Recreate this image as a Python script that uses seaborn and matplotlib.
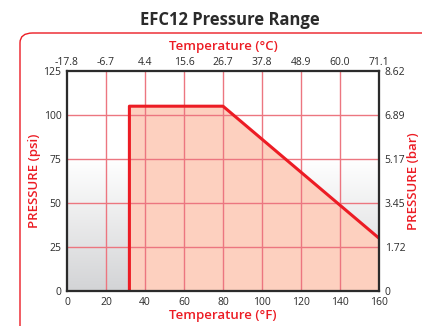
import matplotlib
matplotlib.use("Agg")
import matplotlib.pyplot as plt
from matplotlib.patches import FancyBboxPatch
import seaborn as sns
import numpy as np

# data
temp_f = [32, 32, 80, 160]
pressure_psi = [0, 105, 105, 30]
f_ticks = [0, 20, 40, 60, 80, 100, 120, 140, 160]
c_labels = ["-17.8", "-6.7", "4.4", "15.6", "26.7", "37.8", "48.9", "60.0", "71.1"]
psi_ticks = [0, 25, 50, 75, 100, 125]
bar_labels = ["0", "1.72", "3.45", "5.17", "6.89", "8.62"]

RED = "#ec1c24"
GRID = "#ec7680"
FILL = "#fdd0bf"
DARK = "#2b2b2b"

sns.set_style("white")
plt.rcParams['font.family'] = ['Open Sans', 'DejaVu Sans']

fig = plt.figure(figsize=(4.22, 3.26), dpi=100)
ax = fig.add_axes([67 / 422, 1 - 291 / 326, 312 / 422, 220 / 326])

# rounded red frame behind the chart
frame = FancyBboxPatch((20 / 422, -0.05), 1.05, 1 - 33 / 326 + 0.05,
                       boxstyle="round,pad=0,rounding_size=0.03",
                       transform=fig.transFigure, fill=False,
                       edgecolor=RED, lw=1.0, clip_on=False, zorder=0)
fig.patches.append(frame)

# background gradient white -> grey
grad = np.linspace(0, 1, 256).reshape(-1, 1)
grad = np.clip((grad - 0.4) / 0.6, 0, 1)
cmap = matplotlib.colors.LinearSegmentedColormap.from_list("bg", ["#ffffff", "#d3d4d6"])
ax.imshow(grad, extent=[0, 160, 0, 125], origin="upper", aspect="auto",
          cmap=cmap, zorder=0)

ax.fill_between(temp_f, pressure_psi, 0, color=FILL, zorder=1, lw=0)
for xv in f_ticks[1:-1]:
    ax.axvline(xv, color=GRID, lw=1.0, zorder=2)
for yv in psi_ticks[1:-1]:
    ax.axhline(yv, color=GRID, lw=1.0, zorder=2)
sns.lineplot(x=temp_f, y=pressure_psi, ax=ax, color=RED, lw=2.2, sort=False,
             estimator=None, zorder=3)
ax.set_xlim(0, 160)
ax.set_ylim(0, 125)

ax.set_xticks(f_ticks)
ax.set_yticks(psi_ticks)
ax.tick_params(length=0, labelsize=7.5, colors=DARK, pad=4)
for sp in ax.spines.values():
    sp.set_color(DARK)
    sp.set_linewidth(1.5)
    sp.set_zorder(4)
ax.set_xlabel("Temperature (°F)", color=RED, fontsize=9.5, fontweight="semibold", labelpad=1)
ax.set_ylabel("PRESSURE (psi)", color=RED, fontsize=9.5, fontweight="semibold", labelpad=2)

ax_top = ax.twiny()
ax_top.set_xlim(0, 160)
ax_top.set_xticks(f_ticks)
ax_top.set_xticklabels(c_labels)
ax_top.tick_params(length=0, labelsize=7.5, colors=DARK, pad=2)
ax_top.set_xlabel("Temperature (°C)", color=RED, fontsize=9.5, fontweight="semibold", labelpad=5)

ax_right = ax.twinx()
ax_right.set_ylim(0, 125)
ax_right.set_yticks(psi_ticks)
ax_right.set_yticklabels(bar_labels)
ax_right.tick_params(length=0, labelsize=7.5, colors=DARK, pad=4)
ax_right.set_ylabel("PRESSURE (bar)", color=RED, fontsize=9.5, fontweight="semibold", labelpad=1)
for a in (ax_top, ax_right):
    for sp in a.spines.values():
        sp.set_color(DARK)
        sp.set_linewidth(1.5)

fig.text(0.545, 0.94, "EFC12 Pressure Range", ha="center", va="center",
         fontsize=12, fontweight="bold", color=DARK)

fig.savefig("out.png", dpi=100)
